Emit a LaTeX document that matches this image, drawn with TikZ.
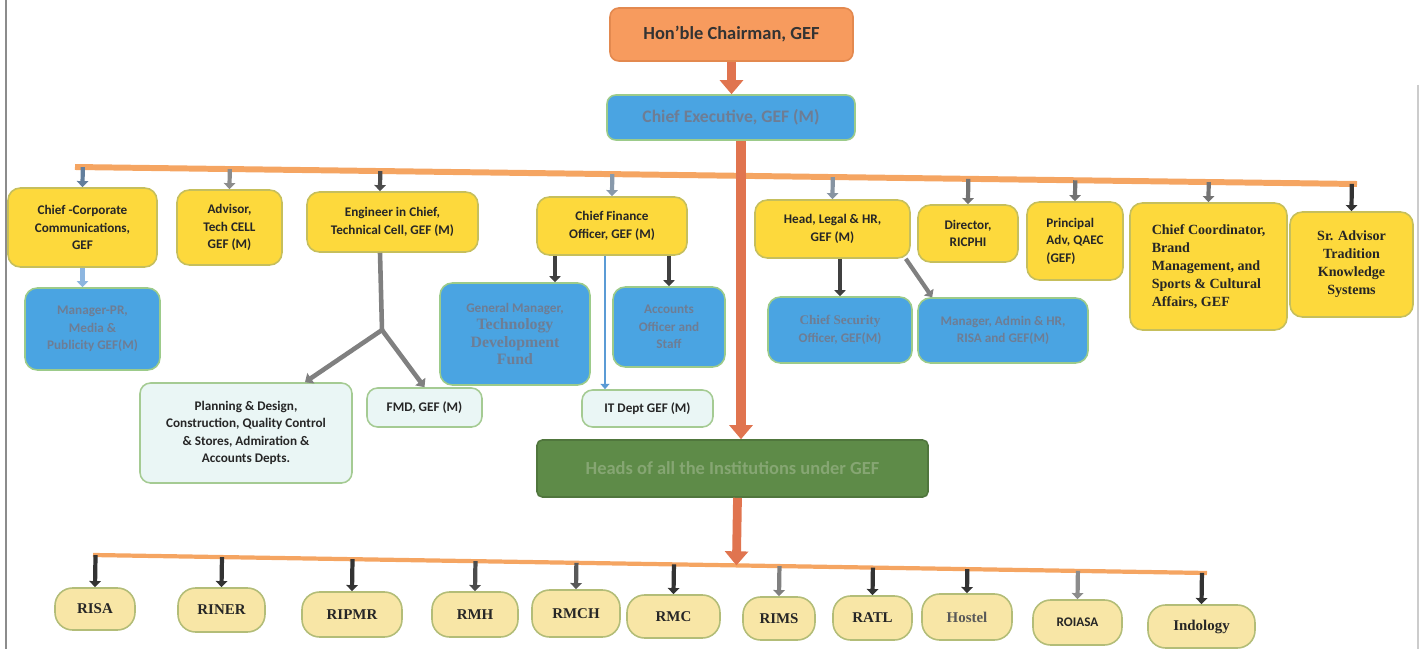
\documentclass[tikz,border=0pt]{standalone}
\usepackage{fontspec}
\setmainfont{Carlito}
\newfontfamily\tnr{Liberation Serif}
\usetikzlibrary{arrows.meta}
\usetikzlibrary{calc}
\definecolor{chairorange}{HTML}{F79B5E}
\definecolor{chairedge}{HTML}{E3894F}
\definecolor{flowcoral}{HTML}{E0744F}
\definecolor{barorange}{HTML}{F5A562}
\definecolor{postyellow}{HTML}{FDD93C}
\definecolor{postedge}{HTML}{C6BF5C}
\definecolor{subblue}{HTML}{4AA4E2}
\definecolor{subedge}{HTML}{9CCB8A}
\definecolor{subtext}{HTML}{6E7D94}
\definecolor{deptpale}{HTML}{EAF6F5}
\definecolor{deptedge}{HTML}{A5CB93}
\definecolor{headgreen}{HTML}{5E8B48}
\definecolor{headtext}{HTML}{86A673}
\definecolor{unitfill}{HTML}{F8E6A6}
\definecolor{unitedge}{HTML}{B3BD78}
\definecolor{itblue}{HTML}{5B9BD5}
\definecolor{prblue}{HTML}{8DB6E0}
\tikzset{>=latex}
\tikzset{
  chairbox/.style={draw=chairedge, fill=chairorange, line width=0.9pt, rounded corners=5pt,
    inner sep=1pt, font=\fontsize{10.5}{12}\selectfont\bfseries, text=black!80},
  cebox/.style={draw=subedge, fill=subblue, line width=0.9pt, rounded corners=5pt,
    inner sep=1pt, font=\fontsize{10}{12}\selectfont\bfseries, text=subtext},
  post/.style={draw=postedge, fill=postyellow, line width=0.9pt, rounded corners=7pt,
    align=center, inner sep=1pt, font=\fontsize{7.5}{10}\selectfont\bfseries, text=black!85},
  serifpost/.style={post, font=\tnr\fontsize{8}{10.2}\selectfont\bfseries},
  sub/.style={draw=subedge, fill=subblue, line width=0.9pt, rounded corners=7pt,
    align=center, inner sep=1pt, font=\fontsize{7.5}{10}\selectfont\bfseries, text=subtext},
  dept/.style={draw=deptedge, fill=deptpale, line width=0.9pt, rounded corners=6pt,
    align=center, inner sep=1pt, font=\fontsize{7.5}{10}\selectfont\bfseries, text=black!85},
  headbox/.style={draw=headgreen!85!black, fill=headgreen, line width=0.9pt, rounded corners=3pt,
    inner sep=1pt, font=\fontsize{10.5}{12}\selectfont\bfseries, text=headtext},
  unit/.style={draw=unitedge, fill=unitfill, line width=0.9pt, rounded corners=10pt,
    inner sep=1pt, font=\tnr\fontsize{8.5}{10}\selectfont\bfseries, text=black!85},
  bar/.style={draw=barorange, line width=3.4pt},
  flow/.style={draw=flowcoral, line width=5.5pt, -{Triangle[length=8pt,width=13pt]}},
  feed/.style={draw=#1, line width=2.4pt, -{Triangle[length=3.5pt,width=6.5pt]}},
  feed/.default=black!75,
  fork/.style={draw=black!50, line width=2.6pt},
}
\newcommand\tdf{\tnr\fontsize{9}{10.5}\selectfont}
\begin{document}
\begin{tikzpicture}[x=0.2mm, y=-0.2mm]
            \useasboundingbox (0,0) rectangle (1420,649);
            \draw [black!45, line width=0.8pt] (6,0) -- (6,649);
            \draw [black!20, line width=0.6pt] (1418,85) -- (1418,649);
            % top of the chart
            \node [chairbox, minimum width=48.6mm, minimum height=10.6mm] (chair) at (731.5,34.5) {Hon’ble Chairman, GEF};
            \node [cebox, minimum width=49.6mm, minimum height=9mm] (ce) at (731,117.5) {Chief Executive, GEF (M)};
            \coordinate (topL) at (75,167);
            \coordinate (topR) at (1357,184);
            % second row
            \node [post, minimum width=29.8mm, minimum height=15.8mm] (cc) at (82.5,227.5) {Chief -Corporate\\Communications,\\GEF};
            \node [post, minimum width=21mm, minimum height=15mm] (adv) at (229.5,227.5) {Advisor,\\Tech CELL\\GEF (M)};
            \node [post, minimum width=34.2mm, minimum height=12mm] (eic) at (392.5,222) {Engineer in Chief,\\Technical Cell, GEF (M)};
            \node [post, minimum width=30mm, minimum height=11.6mm] (cfo) at (612,226) {Chief Finance\\Officer, GEF (M)};
            \node [post, minimum width=31mm, minimum height=11.6mm] (hlh) at (832.5,229) {Head, Legal \& HR,\\GEF (M)};
            \node [post, minimum width=20mm, minimum height=11.4mm] (dir) at (968,233.5) {Director,\\RICPHI};
            \node [post, align=left, minimum width=19.2mm, minimum height=15.6mm] (qaec) at (1075,241) {Principal\\Adv, QAEC\\(GEF)};
            \node [serifpost, align=left, minimum width=31.4mm, minimum height=25.4mm] (ccb) at (1208.5,266.5) {Chief Coordinator,\\Brand\\Management, and\\Sports \& Cultural\\Affairs, GEF};
            \node [serifpost, minimum width=24.6mm, minimum height=21mm] (sra) at (1351.5,264.5) {Sr. Advisor\\Tradition\\Knowledge\\Systems};
            % third row
            \node [sub, minimum width=27mm, minimum height=16.4mm] (mpr) at (92.5,329) {Manager-PR,\\Media \&\\Publicity GEF(M)};
            \node [sub, minimum width=30mm, minimum height=20.4mm] (gm) at (515,334) {General Manager,\\\tdf Technology\\\tdf Development\\\tdf Fund};
            \node [sub, minimum width=22.4mm, minimum height=16mm] (aos) at (669,327) {Accounts\\Officer and\\Staff};
            \node [sub, minimum width=28.8mm, minimum height=13.2mm] (cso) at (840,330) {{\tnr Chief Security}\\Officer, GEF(M)};
            \node [sub, minimum width=34mm, minimum height=13mm] (mah) at (1003,330.5) {Manager, Admin \& HR,\\RISA and GEF(M)};
            \node [dept, minimum width=42.4mm, minimum height=20mm] (pdc) at (246,433) {Planning \& Design,\\Construction, Quality Control\\\& Stores, Admiration \&\\Accounts Depts.};
            \node [dept, minimum width=23mm, minimum height=7.8mm] (fmd) at (424.5,407.5) {FMD, GEF (M)};
            \node [dept, minimum width=26.2mm, minimum height=7.4mm] (itd) at (647.5,408.5) {IT Dept GEF (M)};
            \node [headbox, minimum width=78.2mm, minimum height=11.4mm] (heads) at (732.5,468.5) {Heads of all the Institutions under GEF};
            % institutions
            \coordinate (lowL) at (93,555);
            \coordinate (lowR) at (1207,573);
            \node [unit, minimum width=16mm, minimum height=8.4mm] (risa) at (95,609) {RISA};
            \node [unit, minimum width=17.4mm, minimum height=8.8mm] (riner) at (221.5,610) {RINER};
            \node [unit, minimum width=20mm, minimum height=9mm] (ripmr) at (352,614.5) {RIPMR};
            \node [unit, minimum width=17.2mm, minimum height=9mm] (rmh) at (475,614.5) {RMH};
            \node [unit, minimum width=17.6mm, minimum height=9.4mm] (rmch) at (576,613.5) {RMCH};
            \node [unit, minimum width=18.6mm, minimum height=8.6mm] (rmc) at (673.5,616.5) {RMC};
            \node [unit, minimum width=14.4mm, minimum height=8.6mm] (rims) at (779,618.5) {RIMS};
            \node [unit, minimum width=15.8mm, minimum height=8.8mm] (ratl) at (872.5,618) {RATL};
            \node [unit, minimum width=18mm, minimum height=9.2mm, text=black!65] (hostel) at (967,617) {Hostel};
            \node [unit, minimum width=17.8mm, minimum height=9mm, font=\fontsize{7.5}{9}\selectfont\bfseries] (roiasa) at (1077.5,622.5) {ROIASA};
            \node [unit, minimum width=21.4mm, minimum height=8.6mm] (indology) at (1201.5,626.5) {Indology};
            % bars
            \draw [bar] (topL) -- (topR);
            \draw [bar, line width=2.4pt] (lowL) -- (lowR);
            % feeds from the top bar
            \coordinate (eicin) at ([xshift=-2.5mm]eic.north);
            \draw [feed=prblue!70!black] ($(topL)!(cc.north)!(topR)$) -- (cc.north);
            \draw [feed=black!45] ($(topL)!(adv.north)!(topR)$) -- (adv.north);
            \draw [feed=black!70] ($(topL)!(eicin)!(topR)$) -- (eicin);
            \draw [feed=prblue!60!black!70] ($(topL)!(cfo.north)!(topR)$) -- (cfo.north);
            \draw [feed=prblue!50!black!65] ($(topL)!(hlh.north)!(topR)$) -- (hlh.north);
            \draw [feed=black!55] ($(topL)!(dir.north)!(topR)$) -- (dir.north);
            \draw [feed=black!55] ($(topL)!(qaec.north)!(topR)$) -- (qaec.north);
            \draw [feed=black!55] ($(topL)!(ccb.north)!(topR)$) -- (ccb.north);
            \draw [feed=black!80] ($(topL)!(sra.north)!(topR)$) -- (sra.north);
            % feeds to the third row
            \draw [feed=prblue] (cc.south) -- (cc.south |- mpr.north);
            \coordinate (split) at (382,330);
            \coordinate (pdcin) at ([xshift=11.8mm]pdc.north);
            \coordinate (gmin) at ([xshift=8mm]gm.north);
            \coordinate (itin) at ([xshift=-8.5mm]itd.north);
            \draw [fork] ([xshift=-2.5mm]eic.south) -- (split);
            \draw [fork, -{Triangle[length=4pt,width=7pt]}] (split) -- (pdcin);
            \draw [fork, -{Triangle[length=4pt,width=7pt]}] (split) -- (fmd.north);
            \draw [feed=black!75] (cfo.south -| gmin) -- (gmin);
            \draw [feed=black!75] (cfo.south -| aos.north) -- (aos.north);
            \draw [draw=itblue, line width=1.5pt, -{Triangle[length=3pt,width=5pt]}] (cfo.south -| itin) -- (itin);
            \draw [feed=black!75] (hlh.south -| cso.north) -- (cso.north);
            \draw [feed=black!50] ([xshift=-1mm]hlh.south east) -- ([xshift=3mm]mah.north west);
            % main flow
            \draw [flow] (chair.south) -- (chair.south |- ce.north);
            \draw [flow] ([xshift=2mm]ce.south) -- ([xshift=2mm]ce.south |- heads.north);
            \coordinate (hdown) at ([xshift=1mm]heads.south);
            \draw [flow, line width=5pt] (hdown) -- ($(lowL)!(hdown)!(lowR)$);
            % feeds to the institutions
            \draw [feed=black!80] ($(lowL)!(risa.north)!(lowR)$) -- (risa.north);
            \draw [feed=black!80] ($(lowL)!(riner.north)!(lowR)$) -- (riner.north);
            \draw [feed=black!80] ($(lowL)!(ripmr.north)!(lowR)$) -- (ripmr.north);
            \draw [feed=black!70] ($(lowL)!(rmh.north)!(lowR)$) -- (rmh.north);
            \draw [feed=black!65] ($(lowL)!(rmch.north)!(lowR)$) -- (rmch.north);
            \draw [feed=black!80] ($(lowL)!(rmc.north)!(lowR)$) -- (rmc.north);
            \draw [feed=black!50] ($(lowL)!(rims.north)!(lowR)$) -- (rims.north);
            \draw [feed=black!80] ($(lowL)!(ratl.north)!(lowR)$) -- (ratl.north);
            \draw [feed=black!80] ($(lowL)!(hostel.north)!(lowR)$) -- (hostel.north);
            \draw [feed=black!45] ($(lowL)!(roiasa.north)!(lowR)$) -- (roiasa.north);
            \draw [feed=black!80] ($(lowL)!(indology.north)!(lowR)$) -- (indology.north);
\end{tikzpicture}
\end{document}
